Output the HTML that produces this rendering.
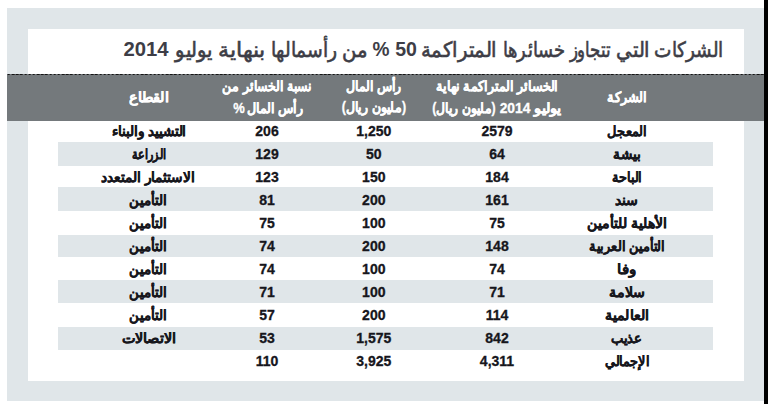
<!DOCTYPE html>
<html lang="ar"><head><meta charset="utf-8"><title>الشركات التي تتجاوز خسائرها المتراكمة 50 %</title>
<style>
html,body{margin:0;padding:0;}
body{width:768px;height:404px;overflow:hidden;position:relative;background:#fff;font-family:"Liberation Sans",sans-serif;font-weight:bold;}
.frame{position:absolute;left:7px;top:8px;width:757px;height:393px;background:#e0e6e9;}
.bar{position:absolute;left:764px;top:0;width:4px;height:404px;background:#000;}
.panel{position:absolute;left:28px;top:29px;width:716px;height:352px;background:#fff;}
.head{position:absolute;left:7px;top:74px;width:757px;height:46.5px;background:#74797c;}
.dash{position:absolute;left:7px;top:74px;width:757px;height:1px;background:repeating-linear-gradient(90deg,#141414 0,#141414 2.4px,rgba(20,20,20,0) 2.4px,rgba(20,20,20,0) 4.162px);background-position:0.7px 0;}
.st{position:absolute;left:58px;width:655px;background:#e0e6e9;}
.t{position:absolute;white-space:nowrap;line-height:1;transform-origin:50% 50%;}
.ti{color:#3d3d46;}
.ta{font-weight:normal;-webkit-text-stroke:0.6px #3d3d46;}
.hd,.hdn{color:#fff;-webkit-text-stroke:0.3px #fff;}
.ar,.nu{color:#16161c;-webkit-text-stroke:0.3px #16161c;}
</style></head><body>
<div class="frame"></div>
<div class="bar"></div>
<div class="panel"></div>
<div class="head"></div>
<div class="dash"></div>
<div class="st" style="top:141.75px;height:24.15px"></div>
<div class="st" style="top:186.80px;height:23.90px"></div>
<div class="st" style="top:235.30px;height:22.20px"></div>
<div class="st" style="top:280.00px;height:22.90px"></div>
<div class="st" style="top:327.00px;height:23.10px"></div>
<div id="t0" class="t ti" style="left:145.55px;top:39.17px;font-size:20.00px;transform:translateX(-50%) scaleX(1.0250)">2014</div>
<div id="t1" class="t ti ta" dir="rtl" style="left:193.50px;top:39.55px;font-size:20.50px;transform:translateX(-50%) scaleX(0.9286)">يوليو</div>
<div id="t2" class="t ti ta" dir="rtl" style="left:242.35px;top:39.55px;font-size:20.50px;transform:translateX(-50%) scaleX(1.0535)">بنهاية</div>
<div id="t3" class="t ti ta" dir="rtl" style="left:304.15px;top:39.55px;font-size:20.50px;transform:translateX(-50%) scaleX(0.8945)">رأسمالها</div>
<div id="t4" class="t ti ta" dir="rtl" style="left:355.30px;top:39.55px;font-size:20.50px;transform:translateX(-50%) scaleX(0.9360)">من</div>
<div id="t5" class="t ti" style="left:380.80px;top:39.17px;font-size:20.00px;transform:translateX(-50%) scaleX(0.9444)">%</div>
<div id="t6" class="t ti" style="left:405.95px;top:39.17px;font-size:20.00px;transform:translateX(-50%) scaleX(0.9864)">50</div>
<div id="t7" class="t ti ta" dir="rtl" style="left:458.80px;top:39.55px;font-size:20.50px;transform:translateX(-50%) scaleX(0.9392)">المتراكمة</div>
<div id="t8" class="t ti ta" dir="rtl" style="left:533.65px;top:39.55px;font-size:20.50px;transform:translateX(-50%) scaleX(0.8521)">خسائرها</div>
<div id="t9" class="t ti ta" dir="rtl" style="left:590.35px;top:39.55px;font-size:20.50px;transform:translateX(-50%) scaleX(0.7870)">تتجاوز</div>
<div id="t10" class="t ti ta" dir="rtl" style="left:633.35px;top:39.55px;font-size:20.50px;transform:translateX(-50%) scaleX(0.9324)">التي</div>
<div id="t11" class="t ti ta" dir="rtl" style="left:689.35px;top:39.55px;font-size:20.50px;transform:translateX(-50%) scaleX(0.8792)">الشركات</div>
<div id="h_co" class="t hd" dir="rtl" style="left:627.25px;top:89.75px;font-size:14.00px;transform:translateX(-50%) scaleX(0.8106)">الشركة</div>
<div id="h_l1" class="t hd" dir="rtl" style="left:496.50px;top:78.55px;font-size:14.00px;transform:translateX(-50%) scaleX(0.7781)">الخسائر المتراكمة نهاية</div>
<div id="h_l2a" class="t hd" dir="rtl" style="left:548.00px;top:100.75px;font-size:14.00px;transform:translateX(-50%) scaleX(0.8057)">يوليو</div>
<div id="h_l2b" class="t hdn" style="left:515.15px;top:101.52px;font-size:13.80px;transform:translateX(-50%) scaleX(0.9594)">2014</div>
<div id="h_l2c" class="t hd" dir="rtl" style="left:463.55px;top:100.75px;font-size:14.00px;transform:translateX(-50%) scaleX(0.7376)">(مليون ريال)</div>
<div id="h_c1" class="t hd" dir="rtl" style="left:374.10px;top:78.75px;font-size:14.00px;transform:translateX(-50%) scaleX(0.7686)">رأس المال</div>
<div id="h_c2" class="t hd" dir="rtl" style="left:373.70px;top:100.35px;font-size:14.00px;transform:translateX(-50%) scaleX(0.7482)">(مليون ريال)</div>
<div id="h_r1" class="t hd" dir="rtl" style="left:266.80px;top:78.65px;font-size:14.00px;transform:translateX(-50%) scaleX(0.7719)">نسبة الخسائر من</div>
<div id="h_r2a" class="t hd" dir="rtl" style="left:275.00px;top:100.75px;font-size:14.00px;transform:translateX(-50%) scaleX(0.7771)">رأس المال</div>
<div id="h_r2b" class="t hdn" style="left:238.95px;top:101.52px;font-size:13.80px;transform:translateX(-50%) scaleX(0.9583)">%</div>
<div id="h_s" class="t hd" dir="rtl" style="left:148.55px;top:89.75px;font-size:14.00px;transform:translateX(-50%) scaleX(0.8021)">القطاع</div>
<div id="c0" class="t ar" dir="rtl" style="left:626.85px;top:124.05px;font-size:14.00px;transform:translateX(-50%) scaleX(0.7896)">المعجل</div>
<div id="l0" class="t nu" style="left:497.00px;top:124.05px;font-size:14.00px;transform:translateX(-50%)">2579</div>
<div id="k0" class="t nu" style="left:373.80px;top:124.05px;font-size:14.00px;transform:translateX(-50%)">1,250</div>
<div id="r0" class="t nu" style="left:267.00px;top:124.05px;font-size:14.00px;transform:translateX(-50%)">206</div>
<div id="s0" class="t ar" dir="rtl" style="left:149.10px;top:124.05px;font-size:14.00px;transform:translateX(-50%) scaleX(0.7708)">التشييد والبناء</div>
<div id="c1" class="t ar" dir="rtl" style="left:626.65px;top:147.05px;font-size:14.00px;transform:translateX(-50%) scaleX(0.8273)">بيشة</div>
<div id="l1" class="t nu" style="left:497.00px;top:147.05px;font-size:14.00px;transform:translateX(-50%)">64</div>
<div id="k1" class="t nu" style="left:373.80px;top:147.05px;font-size:14.00px;transform:translateX(-50%)">50</div>
<div id="r1" class="t nu" style="left:267.00px;top:147.05px;font-size:14.00px;transform:translateX(-50%)">129</div>
<div id="s1" class="t ar" dir="rtl" style="left:148.55px;top:147.05px;font-size:14.00px;transform:translateX(-50%) scaleX(0.6796)">الزراعة</div>
<div id="c2" class="t ar" dir="rtl" style="left:626.55px;top:170.05px;font-size:14.00px;transform:translateX(-50%) scaleX(0.7711)">الباحة</div>
<div id="l2" class="t nu" style="left:497.00px;top:170.05px;font-size:14.00px;transform:translateX(-50%)">184</div>
<div id="k2" class="t nu" style="left:373.80px;top:170.05px;font-size:14.00px;transform:translateX(-50%)">150</div>
<div id="r2" class="t nu" style="left:267.00px;top:170.05px;font-size:14.00px;transform:translateX(-50%)">123</div>
<div id="s2" class="t ar" dir="rtl" style="left:147.95px;top:170.05px;font-size:14.00px;transform:translateX(-50%) scaleX(0.8096)">الاستثمار المتعدد</div>
<div id="c3" class="t ar" dir="rtl" style="left:626.75px;top:193.05px;font-size:14.00px;transform:translateX(-50%) scaleX(0.8259)">سند</div>
<div id="l3" class="t nu" style="left:497.00px;top:193.05px;font-size:14.00px;transform:translateX(-50%)">161</div>
<div id="k3" class="t nu" style="left:373.80px;top:193.05px;font-size:14.00px;transform:translateX(-50%)">200</div>
<div id="r3" class="t nu" style="left:267.00px;top:193.05px;font-size:14.00px;transform:translateX(-50%)">81</div>
<div id="s3" class="t ar" dir="rtl" style="left:147.85px;top:193.05px;font-size:14.00px;transform:translateX(-50%) scaleX(0.7604)">التأمين</div>
<div id="c4" class="t ar" dir="rtl" style="left:627.20px;top:216.05px;font-size:14.00px;transform:translateX(-50%) scaleX(0.8082)">الأهلية للتأمين</div>
<div id="l4" class="t nu" style="left:497.00px;top:216.05px;font-size:14.00px;transform:translateX(-50%)">75</div>
<div id="k4" class="t nu" style="left:373.80px;top:216.05px;font-size:14.00px;transform:translateX(-50%)">100</div>
<div id="r4" class="t nu" style="left:267.00px;top:216.05px;font-size:14.00px;transform:translateX(-50%)">75</div>
<div id="s4" class="t ar" dir="rtl" style="left:147.85px;top:216.05px;font-size:14.00px;transform:translateX(-50%) scaleX(0.7604)">التأمين</div>
<div id="c5" class="t ar" dir="rtl" style="left:626.85px;top:239.05px;font-size:14.00px;transform:translateX(-50%) scaleX(0.7622)">التأمين العربية</div>
<div id="l5" class="t nu" style="left:497.00px;top:239.05px;font-size:14.00px;transform:translateX(-50%)">148</div>
<div id="k5" class="t nu" style="left:373.80px;top:239.05px;font-size:14.00px;transform:translateX(-50%)">200</div>
<div id="r5" class="t nu" style="left:267.00px;top:239.05px;font-size:14.00px;transform:translateX(-50%)">74</div>
<div id="s5" class="t ar" dir="rtl" style="left:147.85px;top:239.05px;font-size:14.00px;transform:translateX(-50%) scaleX(0.7604)">التأمين</div>
<div id="c6" class="t ar" dir="rtl" style="left:626.90px;top:262.05px;font-size:14.00px;transform:translateX(-50%) scaleX(0.8476)">وفا</div>
<div id="l6" class="t nu" style="left:497.00px;top:262.05px;font-size:14.00px;transform:translateX(-50%)">74</div>
<div id="k6" class="t nu" style="left:373.80px;top:262.05px;font-size:14.00px;transform:translateX(-50%)">100</div>
<div id="r6" class="t nu" style="left:267.00px;top:262.05px;font-size:14.00px;transform:translateX(-50%)">74</div>
<div id="s6" class="t ar" dir="rtl" style="left:147.85px;top:262.05px;font-size:14.00px;transform:translateX(-50%) scaleX(0.7604)">التأمين</div>
<div id="c7" class="t ar" dir="rtl" style="left:627.25px;top:285.05px;font-size:14.00px;transform:translateX(-50%) scaleX(0.8659)">سلامة</div>
<div id="l7" class="t nu" style="left:497.00px;top:285.05px;font-size:14.00px;transform:translateX(-50%)">71</div>
<div id="k7" class="t nu" style="left:373.80px;top:285.05px;font-size:14.00px;transform:translateX(-50%)">100</div>
<div id="r7" class="t nu" style="left:267.00px;top:285.05px;font-size:14.00px;transform:translateX(-50%)">71</div>
<div id="s7" class="t ar" dir="rtl" style="left:147.85px;top:285.05px;font-size:14.00px;transform:translateX(-50%) scaleX(0.7604)">التأمين</div>
<div id="c8" class="t ar" dir="rtl" style="left:627.20px;top:308.05px;font-size:14.00px;transform:translateX(-50%) scaleX(0.8520)">العالمية</div>
<div id="l8" class="t nu" style="left:497.00px;top:308.05px;font-size:14.00px;transform:translateX(-50%)">114</div>
<div id="k8" class="t nu" style="left:373.80px;top:308.05px;font-size:14.00px;transform:translateX(-50%)">200</div>
<div id="r8" class="t nu" style="left:267.00px;top:308.05px;font-size:14.00px;transform:translateX(-50%)">57</div>
<div id="s8" class="t ar" dir="rtl" style="left:147.85px;top:308.05px;font-size:14.00px;transform:translateX(-50%) scaleX(0.7604)">التأمين</div>
<div id="c9" class="t ar" dir="rtl" style="left:626.00px;top:331.05px;font-size:14.00px;transform:translateX(-50%) scaleX(0.8108)">عذيب</div>
<div id="l9" class="t nu" style="left:497.00px;top:331.05px;font-size:14.00px;transform:translateX(-50%)">842</div>
<div id="k9" class="t nu" style="left:373.80px;top:331.05px;font-size:14.00px;transform:translateX(-50%)">1,575</div>
<div id="r9" class="t nu" style="left:267.00px;top:331.05px;font-size:14.00px;transform:translateX(-50%)">53</div>
<div id="s9" class="t ar" dir="rtl" style="left:148.80px;top:331.05px;font-size:14.00px;transform:translateX(-50%) scaleX(0.8645)">الاتصالات</div>
<div id="c10" class="t ar" dir="rtl" style="left:626.85px;top:354.05px;font-size:14.00px;transform:translateX(-50%) scaleX(0.7702)">الإجمالي</div>
<div id="l10" class="t nu" style="left:497.00px;top:354.05px;font-size:14.00px;transform:translateX(-50%)">4,311</div>
<div id="k10" class="t nu" style="left:373.80px;top:354.05px;font-size:14.00px;transform:translateX(-50%)">3,925</div>
<div id="r10" class="t nu" style="left:267.00px;top:354.05px;font-size:14.00px;transform:translateX(-50%)">110</div>
<script>
(function(){var D={t0:45.1,t1:37.143,t2:47.407,t3:66.195,t4:25.272,t5:17.0,t6:21.7,t7:76.078,t8:62.204,t9:40.926,t10:33.565,t11:69.458,h_co:39.721,h_l1:122.156,h_l2a:27.394,h_l2b:30.7,h_l2c:63.438,h_c1:55.337,h_c2:64.348,h_r1:89.544,h_r2a:55.954,h_r2b:11.5,h_s:39.304,c0:39.479,s0:74.771,c1:27.3,s1:33.98,c2:30.071,s2:93.11,c3:23.126,s3:37.26,c4:80.008,s4:37.26,c5:75.462,s5:37.26,c6:19.495,s6:37.26,c7:36.366,s7:37.26,c8:43.452,s8:37.26,c9:30.811,s9:54.465,c10:44.67};for(var k in D){var e=document.getElementById(k);if(!e)continue;e.style.transform="translateX(-50%)";var w=e.getBoundingClientRect().width;if(w>0){e.style.transform="translateX(-50%) scaleX("+(D[k]/w).toFixed(4)+")";}}})();
</script>
</body></html>
